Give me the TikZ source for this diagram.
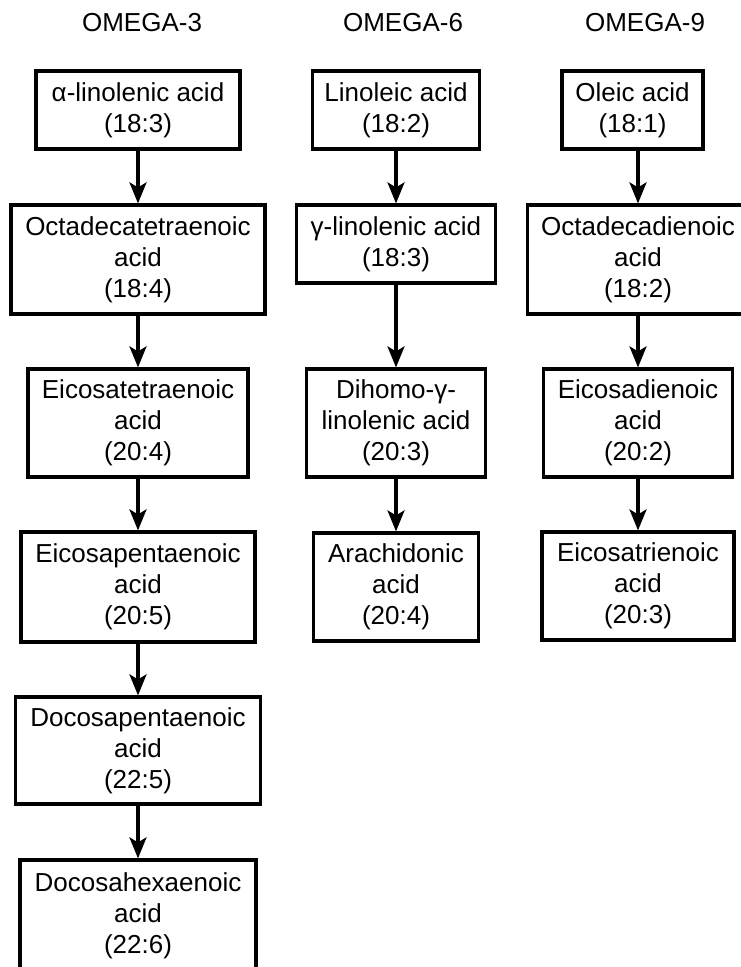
\documentclass[tikz,border=0pt]{standalone}
\usepackage{fontspec}
\setmainfont{Liberation Sans}
\usetikzlibrary{arrows.meta}

\begin{document}
\begin{tikzpicture}[x=1pt,y=-1pt,
	acide/.style={draw,line width=3.2pt,inner sep=0pt,align=center,
		font=\fontsize{26}{31}\selectfont},
	titre/.style={font=\fontsize{26}{31}\selectfont},
	fl/.style={line width=3.2pt,-{Stealth[length=21pt,width=17pt,inset=5pt]}}]
			          %cadre de l'image
			          \useasboundingbox (0,0) rectangle (740,967);
			          %TITRES
			          \node[titre] (T3) at (142,23) {OMEGA-3};
			          \node[titre] (T6) at (403,23) {OMEGA-6};
			          \node[titre] (T9) at (645,23) {OMEGA-9};
			          %OMEGA-3
			          \node[acide,minimum width=204,minimum height=78] (A1) at (138,110) {α-linolenic acid\\(18:3)};
			          \node[acide,minimum width=254,minimum height=109] (A2) at (138,259.5) {Octadecatetraenoic\\acid\\(18:4)};
			          \node[acide,minimum width=220,minimum height=108] (A3) at (138,423) {Eicosatetraenoic\\acid\\(20:4)};
			          \node[acide,minimum width=234,minimum height=110] (A4) at (138,587) {Eicosapentaenoic\\acid\\(20:5)};
			          \node[acide,minimum width=245,minimum height=107] (A5) at (138,750.5) {Docosapentaenoic\\acid\\(22:5)};
			          \node[acide,minimum width=236,minimum height=112] (A6) at (138,916) {Docosahexaenoic\\acid\\(22:6)};
			          \draw[fl] (A1) -- (A2);
			          \draw[fl] (A2) -- (A3);
			          \draw[fl] (A3) -- (A4);
			          \draw[fl] (A4) -- (A5);
			          \draw[fl] (A5) -- (A6);
			          %OMEGA-6
			          \node[acide,minimum width=167,minimum height=78] (B1) at (396,110) {Linoleic acid\\(18:2)};
			          \node[acide,minimum width=199,minimum height=78] (B2) at (396,244) {γ-linolenic acid\\(18:3)};
			          \node[acide,minimum width=179,minimum height=108] (B3) at (396,423) {Dihomo-γ-\\linolenic acid\\(20:3)};
			          \node[acide,minimum width=165,minimum height=108] (B4) at (396,587) {Arachidonic\\acid\\(20:4)};
			          \draw[fl] (B1) -- (B2);
			          \draw[fl] (B2) -- (B3);
			          \draw[fl] (B3) -- (B4);
			          %OMEGA-9
			          \node[acide,minimum width=141,minimum height=78] (C1) at (632.5,110) {Oleic acid\\(18:1)};
			          \node[acide,minimum width=221,minimum height=109] (C2) at (638,259.5) {Octadecadienoic\\acid\\(18:2)};
			          \node[acide,minimum width=189,minimum height=108] (C3) at (638,423) {Eicosadienoic\\acid\\(20:2)};
			          \node[acide,minimum width=192,minimum height=108] (C4) at (638,586) {Eicosatrienoic\\acid\\(20:3)};
			          \draw[fl] (C1.south -| C2.north) -- (C2.north);
			          \draw[fl] (C2) -- (C3);
			          \draw[fl] (C3) -- (C4);
\end{tikzpicture}
\end{document}
